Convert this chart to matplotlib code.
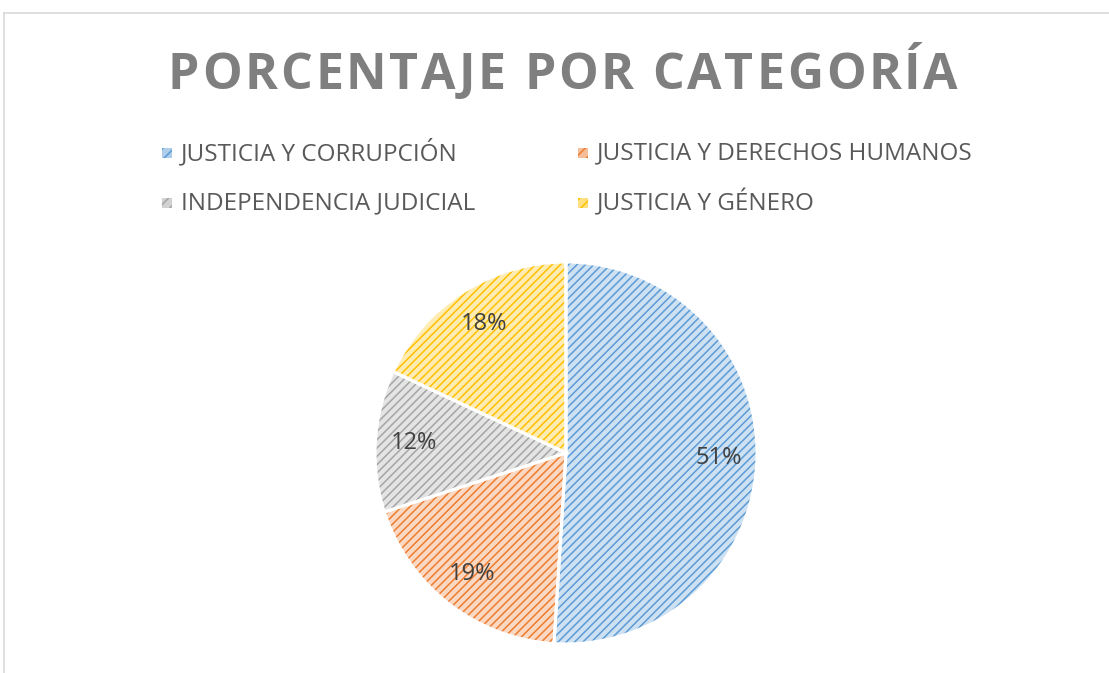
import matplotlib
matplotlib.use("Agg")
import matplotlib.pyplot as plt
from matplotlib.patches import Rectangle
from matplotlib.lines import Line2D
import numpy as np

categories = ["JUSTICIA Y CORRUPCIÓN", "JUSTICIA Y DERECHOS HUMANOS",
              "INDEPENDENCIA JUDICIAL", "JUSTICIA Y GÉNERO"]
values = [51, 19, 12, 18]
colors = ["#5B9BD5", "#ED7D31", "#A5A5A5", "#FFC000"]
title = "PORCENTAJE POR CATEGORÍA"

W, H = 1109, 673
fig = plt.figure(figsize=(W / 100, H / 100), dpi=100)
fig.patch.set_facecolor("white")

def fx(x):
    return x / W

def fy(y):
    return 1 - y / H

def light(c, a=0.35):
    c = np.array(matplotlib.colors.to_rgb(c))
    return tuple(1 - a * (1 - c))

# border lines (top and left)
fig.add_artist(Line2D([fx(4), fx(1109)], [fy(13), fy(13)], color="#d9d9d9", lw=1.2))
fig.add_artist(Line2D([fx(4), fx(4)], [fy(13), fy(673)], color="#d9d9d9", lw=1.2))

# pie axes
cx, cy, r = 566, 453, 191
ax = fig.add_axes([fx(cx - r), fy(cy + r), 2 * r / W, 2 * r / H])
plt.rcParams["hatch.linewidth"] = 1.1
wedges, texts = ax.pie(values, startangle=90, counterclock=False,
                       colors=[light(c, 0.3) for c in colors],
                       labels=[f"{v}%" for v in values], labeldistance=0.8,
                       textprops=dict(fontsize=17, color="#404040", family="Open Sans",
                                      ha="center", va="center"),
                       wedgeprops=dict(linewidth=0))
for w, c in zip(wedges, colors):
    w.set_hatch("////")
    w.set_edgecolor(c)
    w.set_linewidth(0)
ax.pie(values, startangle=90, counterclock=False, colors=["none"] * 4,
       wedgeprops=dict(linewidth=2.2, edgecolor="white", fill=False))
ax.set_xlim(-1, 1)
ax.set_ylim(-1, 1)
ax.set_aspect("equal")
ax.axis("off")

# title with letter spacing
fig.canvas.draw()
renderer = fig.canvas.get_renderer()
tprops = dict(fontsize=36, fontweight="bold", color="#7F7F7F", family="Open Sans",
              va="baseline", ha="left")
widths = []
for ch in title:
    t = fig.text(0, 0, ch if ch != " " else "\u00a0", **tprops)
    bb = t.get_window_extent(renderer)
    widths.append(bb.width)
    t.remove()
x0, x1 = 168, 958
n = len(title)
gap = (x1 - x0 - sum(widths)) / (n - 1)
x = x0
for ch, wdt in zip(title, widths):
    if ch != " ":
        fig.text(fx(x), fy(89), ch, **tprops)
    x += wdt + gap

# legend
leg_pos = [(167, 153), (583, 153), (167, 203), (583, 203)]
for (lx, ly), lab, c in zip(leg_pos, categories, colors):
    rect = Rectangle((fx(lx - 5), fy(ly + 5)), 10 / W, 10 / H, transform=fig.transFigure,
                     facecolor=light(c, 0.5), edgecolor=c, hatch="///", linewidth=0)
    fig.add_artist(rect)
    fig.text(fx(lx + 14), fy(ly), lab, fontsize=17.5, color="#595959",
             family="Open Sans", va="center", ha="left")

fig.savefig("out.png", dpi=100, facecolor="white")
